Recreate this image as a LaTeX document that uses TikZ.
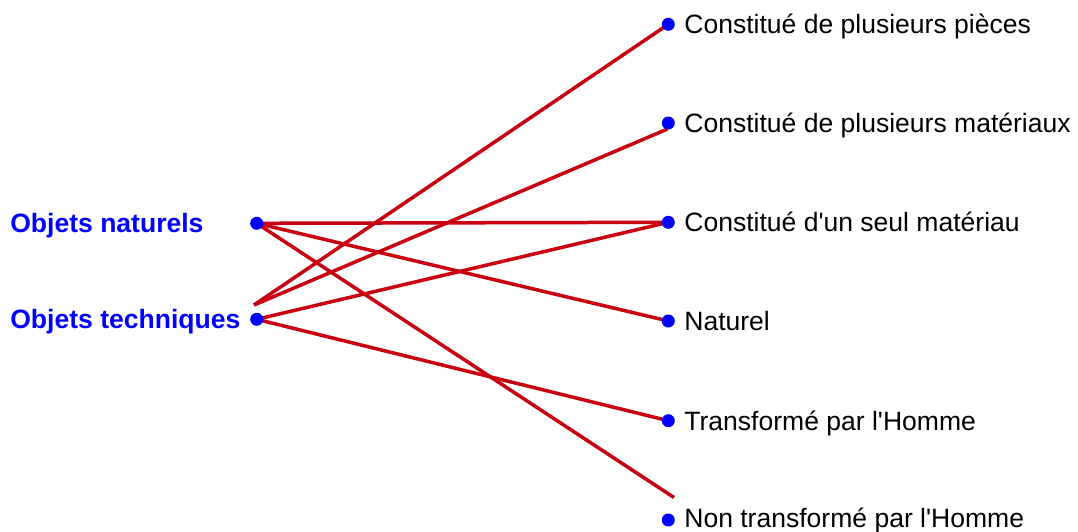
\documentclass[tikz,border=0pt]{standalone}
\usepackage{fontspec}
\setmainfont{Liberation Sans}
\usetikzlibrary{backgrounds}
\definecolor{rougelien}{RGB}{200,0,16}

\begin{document}
\begin{tikzpicture}[x=0.02cm,y=-0.02cm,
  point/.style={circle,fill=blue,inner sep=0pt,minimum size=0.26cm},
  lien/.style={draw=rougelien,line width=0.07cm},
  etiq/.style={anchor=base west,inner sep=0pt,font=\fontsize{15.1}{18}\selectfont},
  objet/.style={etiq,text=blue,font=\fontsize{15.1}{18}\selectfont\bfseries}]
\useasboundingbox (0,0) rectangle (1078,531);
\node[point] (nat) at (256.7,223.3) {};
\node[point] (tech) at (256.7,319.3) {};
\node[objet] (tnat) at (10,232.8) {Objets naturels};
\node[objet] (ttech) at (10,328.8) {Objets techniques};
\node[point] (pieces) at (668.3,24.3) {};
\node[point] (mat) at (668.3,123) {};
\node[point] (seul) at (668.3,222.3) {};
\node[point] (naturel) at (668.3,321) {};
\node[point] (transf) at (668.3,420.7) {};
\node[point] (nontransf) at (668.3,520) {};
\node[etiq] (tpieces) at (684,33.8) {Constitué de plusieurs pièces};
\node[etiq] (tmat) at (684,132.5) {Constitué de plusieurs matériaux};
\node[etiq] (tseul) at (684,231.8) {Constitué d\textquotesingle un seul matériau};
\node[etiq] (tnaturel) at (684,330.5) {Naturel};
\node[etiq] (ttransf) at (684,430.2) {Transformé par l\textquotesingle Homme};
\node[etiq] (tnontransf) at (684,527) {Non transformé par l\textquotesingle Homme};
\coordinate (techbout) at (254,305);
\coordinate (matbout) at (667.5,129);
\coordinate (nonbout) at (674,497.5);
\begin{scope}[on background layer]
\path[lien]
  (nat.center) edge (seul.center)
  edge (naturel.center)
  edge (nonbout)
  (tech.center) edge (seul.center)
  edge (transf.center)
  (techbout) edge (pieces.center)
  edge (matbout);
\end{scope}
\end{tikzpicture}
\end{document}
